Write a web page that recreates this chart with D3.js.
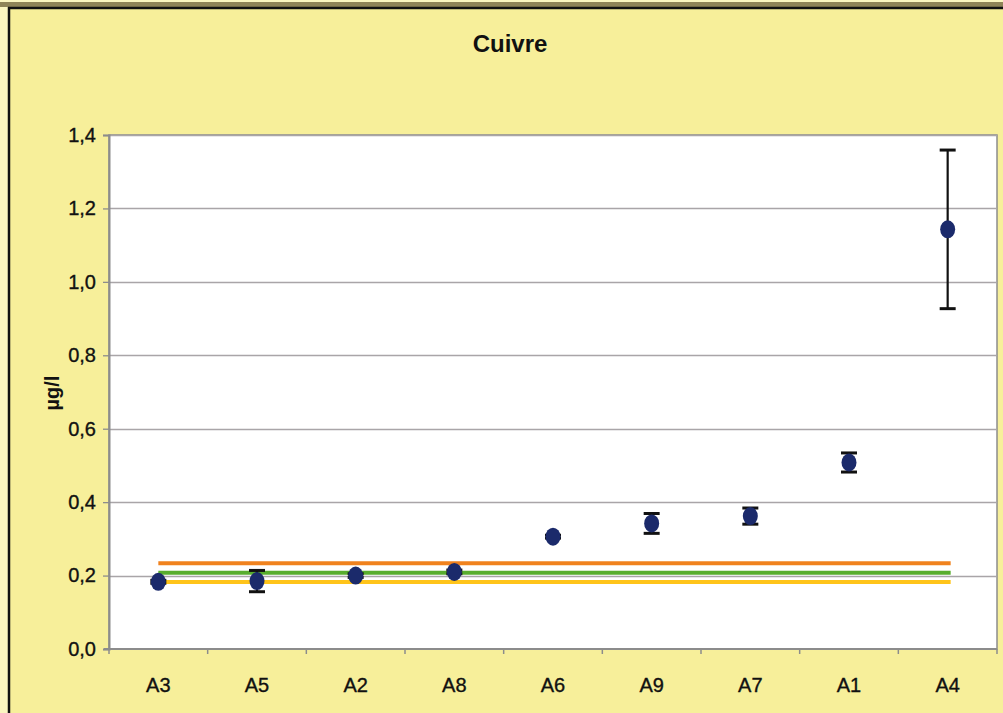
<!DOCTYPE html>
<html>
<head>
<meta charset="utf-8">
<script src="https://cdn.jsdelivr.net/npm/d3@7"></script>
<style>
  html, body { margin: 0; padding: 0; background: #ffffff; }
  svg { display: block; }
  text { font-family: "Liberation Sans", Arial, sans-serif; }
</style>
</head>
<body>
<svg id="chart" width="1003" height="713"></svg>
<script>
// ---- data ----
const title = "Cuivre";
const yLabel = "µg/l";
const categories = ["A3", "A5", "A2", "A8", "A6", "A9", "A7", "A1", "A4"];
const means  = [0.183, 0.185, 0.200, 0.210, 0.306, 0.342, 0.362, 0.508, 1.143];
const errors = [0.004, 0.029, 0.005, 0.005, 0.004, 0.027, 0.022, 0.026, 0.216];
const yTicks = [0, 0.2, 0.4, 0.6, 0.8, 1.0, 1.2, 1.4];
const refValues = [0.2335, 0.208, 0.1825];
const refColors = ["#f0821e", "#58ad2e", "#ffc41a"];

// ---- layout ----
const W = 1003, H = 713;
const plot = { left: 109, right: 997, top: 135, bottom: 649 };

const svg = d3.select("#chart");

// frame / background
svg.append("rect").attr("x", 0).attr("y", 0).attr("width", W).attr("height", H).attr("fill", "#fbf6c0");
svg.append("rect").attr("x", 9).attr("y", 8).attr("width", W - 9).attr("height", H - 8).attr("fill", "#f7ef9a");
svg.append("rect").attr("x", 0).attr("y", 2).attr("width", W).attr("height", 5).attr("fill", "#8f8458");
svg.append("line").attr("x1", 8).attr("x2", W).attr("y1", 8).attr("y2", 8).attr("stroke", "#111").attr("stroke-width", 2.5);
svg.append("line").attr("x1", 9).attr("x2", 9).attr("y1", 7).attr("y2", H).attr("stroke", "#111").attr("stroke-width", 2.5);

// scales
const x = d3.scaleBand().domain(categories).range([plot.left, plot.right]).paddingInner(0).paddingOuter(0);
const y = d3.scaleLinear().domain([0, 1.4]).range([plot.bottom, plot.top]);
const cx = d => x(d) + x.bandwidth() / 2;

// plot area
svg.append("rect")
  .attr("x", plot.left).attr("y", plot.top)
  .attr("width", plot.right - plot.left).attr("height", plot.bottom - plot.top)
  .attr("fill", "#ffffff").attr("stroke", "#8c8c8c").attr("stroke-width", 1.5);

// gridlines
svg.append("g").selectAll("line").data(yTicks.filter(t => t > 0)).join("line")
  .attr("x1", plot.left).attr("x2", plot.right)
  .attr("y1", d => Math.round(y(d)) + 0.5).attr("y2", d => Math.round(y(d)) + 0.5)
  .attr("stroke", "#a9a5a8").attr("stroke-width", 1.3);

// y axis
const yAxis = d3.axisLeft(y).tickValues(yTicks).tickSize(6).tickPadding(7)
  .tickFormat(d => d3.format(".1f")(d).replace(".", ","));
const gy = svg.append("g").attr("transform", `translate(${plot.left},0)`).call(yAxis);
gy.select(".domain").attr("stroke", "#8c8c8c").attr("stroke-width", 2);
gy.selectAll(".tick line").attr("stroke", "#8c8c8c").attr("stroke-width", 1.3);
gy.selectAll(".tick text").attr("font-size", 20).attr("fill", "#111")
  .attr("stroke", "#111").attr("stroke-width", 0.35)
  .attr("font-family", "'Liberation Sans', Arial, sans-serif");

// x axis: ticks at category boundaries
const xBoundaries = categories.map(c => x(c)).concat([plot.right]);
const gx = svg.append("g").attr("transform", `translate(0,${plot.bottom})`);
gx.append("line").attr("x1", plot.left - 5).attr("x2", plot.right).attr("y1", 0).attr("y2", 0)
  .attr("stroke", "#8c8c8c").attr("stroke-width", 2);
gx.selectAll("line.tk").data(xBoundaries).join("line").attr("class", "tk")
  .attr("x1", d => d).attr("x2", d => d).attr("y1", 0).attr("y2", 5)
  .attr("stroke", "#8c8c8c").attr("stroke-width", 1.5);
gx.selectAll("text").data(categories).join("text")
  .attr("x", d => cx(d)).attr("y", 43)
  .attr("text-anchor", "middle").attr("font-size", 20).attr("fill", "#111")
  .attr("stroke", "#111").attr("stroke-width", 0.35)
  .text(d => d);

// reference lines
const firstX = cx(categories[0]), lastX = cx(categories[categories.length - 1]);
svg.append("g").selectAll("line").data(refValues).join("line")
  .attr("x1", firstX).attr("x2", lastX + 3)
  .attr("y1", d => y(d)).attr("y2", d => y(d))
  .attr("stroke", (d, i) => refColors[i]).attr("stroke-width", 4);

// error bars
const eb = svg.append("g").attr("stroke", "#111").attr("stroke-width", 2.2);
categories.forEach((c, i) => {
  const xc = cx(c);
  const y1 = y(means[i] + errors[i]), y0 = y(means[i] - errors[i]);
  eb.append("line").attr("x1", xc).attr("x2", xc).attr("y1", y1).attr("y2", y0);
  eb.append("line").attr("x1", xc - 8).attr("x2", xc + 8).attr("y1", y1).attr("y2", y1).attr("stroke-width", 3);
  eb.append("line").attr("x1", xc - 8).attr("x2", xc + 8).attr("y1", y0).attr("y2", y0).attr("stroke-width", 3);
});

// points
svg.append("g").selectAll("ellipse").data(categories).join("ellipse")
  .attr("cx", d => cx(d)).attr("cy", (d, i) => y(means[i]))
  .attr("rx", 7.5).attr("ry", 9)
  .attr("fill", "#1b2a6b");

// title
svg.append("text").attr("x", 510).attr("y", 52).attr("text-anchor", "middle")
  .attr("font-size", 24).attr("font-weight", "bold").attr("fill", "#111").text(title);

// y label
svg.append("text").attr("transform", "translate(59,393) rotate(-90)")
  .attr("text-anchor", "middle").attr("font-size", 20).attr("font-weight", "bold")
  .attr("fill", "#111").text(yLabel);
</script>
</body>
</html>
